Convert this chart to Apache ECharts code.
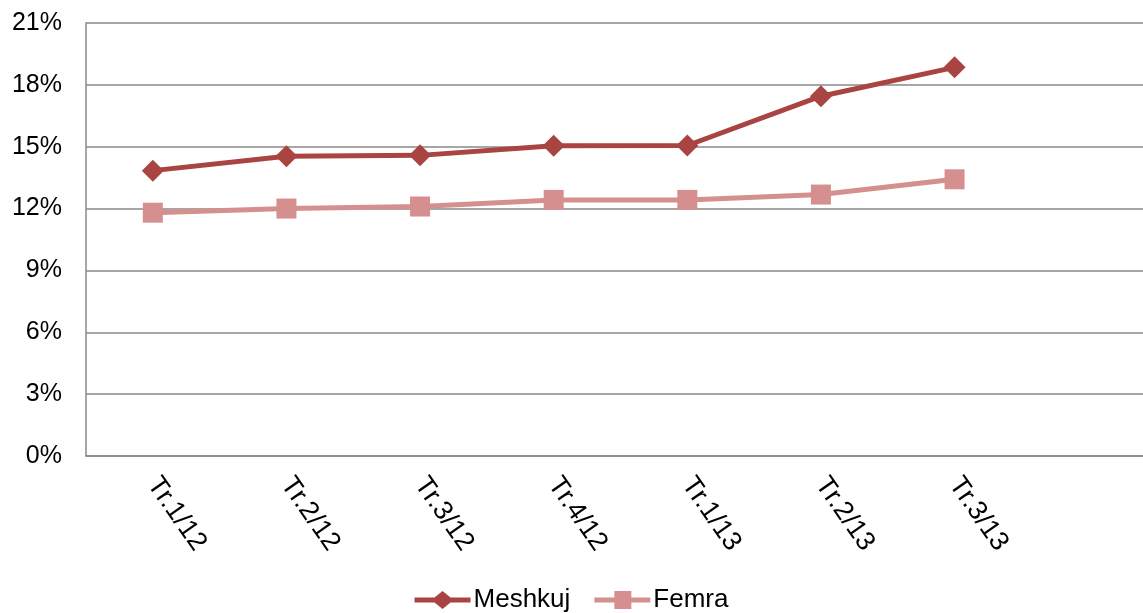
<!DOCTYPE html>
<html><head><meta charset="utf-8">
<script src="https://cdn.jsdelivr.net/npm/echarts@6/dist/echarts.min.js"></script>
<style>html,body{margin:0;padding:0;background:#fff}#c{width:1143px;height:613px}</style>
</head><body><div id="c"></div>
<script>
const categories = ['Tr.1/12','Tr.2/12','Tr.3/12','Tr.4/12','Tr.1/13','Tr.2/13','Tr.3/13',''];
const meshkuj = [13.84, 14.54, 14.58, 15.05, 15.06, 17.45, 18.85];
const femra = [11.8, 12.0, 12.1, 12.42, 12.42, 12.68, 13.42];
const yTicks = [0, 3, 6, 9, 12, 15, 18, 21];

const chart = echarts.init(document.getElementById('c'));
chart.setOption({
  animation: false,
  textStyle: { fontFamily: 'Liberation Sans, Arial, sans-serif' },
  grid: { left: 86, width: 1069, top: 23, height: 433, containLabel: false, outerBoundsMode: 'none' },
  legend: {
    bottom: -5, left: 'center', itemWidth: 56, itemHeight: 18, itemGap: 24,
    textStyle: { fontSize: 26, color: '#000', fontFamily: 'Liberation Sans, Arial, sans-serif', padding: [0,0,0,-2] },
    data: [
      { name: 'Meshkuj', icon: 'path://M0,6.5 L20,6.5 L28,0 L36,6.5 L56,6.5 L56,11.5 L36,11.5 L28,18 L20,11.5 L0,11.5 Z' },
      { name: 'Femra', icon: 'path://M0,6.5 L20,6.5 L20,0 L37,0 L37,6.5 L56,6.5 L56,11.5 L37,11.5 L37,18 L20,18 L20,11.5 L0,11.5 Z' }
    ]
  },
  xAxis: {
    type: 'category', data: categories, boundaryGap: true,
    axisLine: { lineStyle: { color: '#888', width: 1.5 } },
    axisTick: { show: false },
    axisLabel: { rotate: -55, fontSize: 27, color: '#000', margin: 24, interval: 0 }
  },
  yAxis: {
    type: 'value', min: 0, max: 21, interval: 3,
    axisLine: { show: true, lineStyle: { color: '#888', width: 1.5 } },
    axisTick: { show: false },
    splitLine: { lineStyle: { color: '#888', width: 1.5 } },
    axisLabel: { fontSize: 25, color: '#000', margin: 24,
      formatter: v => yTicks.includes(v) ? v + '%' : '' }
  },
  series: [
    { name: 'Meshkuj', type: 'line', data: meshkuj, symbol: 'diamond', symbolSize: 22,
      color: '#A94442', lineStyle: { width: 5, color: '#A94442' }, itemStyle: { color: '#A94442' } },
    { name: 'Femra', type: 'line', data: femra, symbol: 'rect', symbolSize: 20,
      color: '#D48F8E', lineStyle: { width: 5, color: '#D48F8E' }, itemStyle: { color: '#D48F8E' } }
  ]
});
</script></body></html>
